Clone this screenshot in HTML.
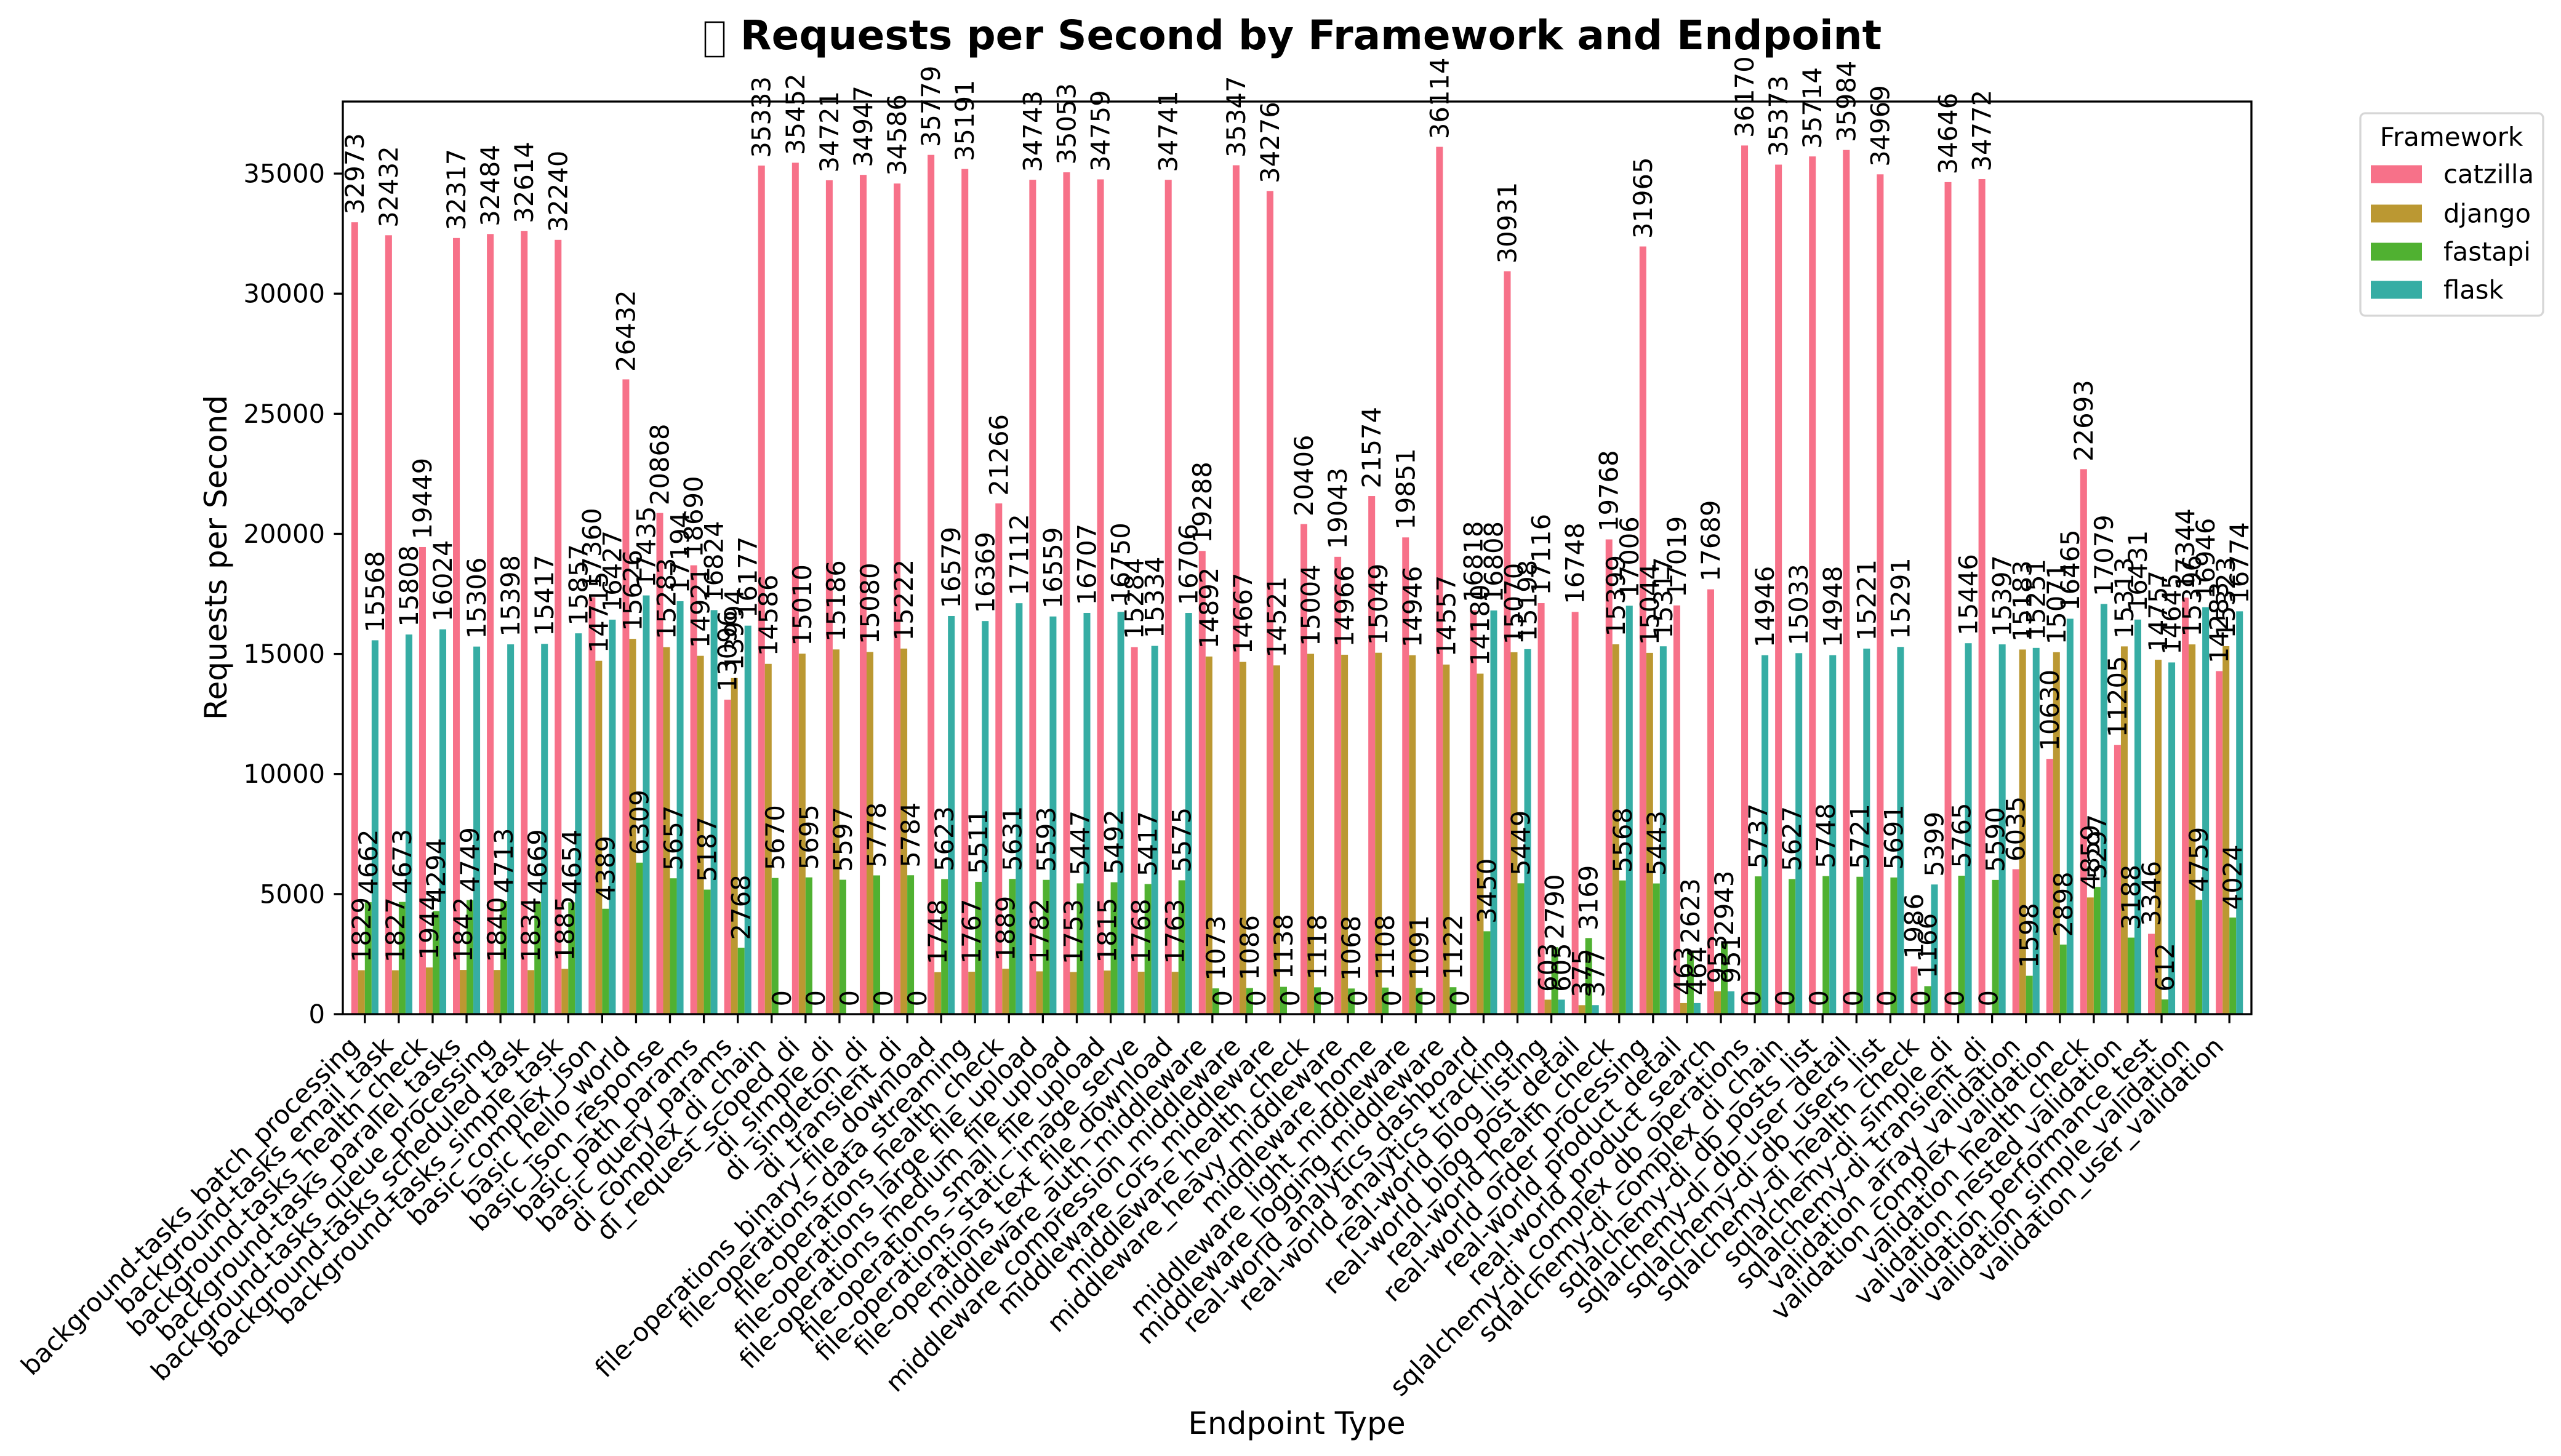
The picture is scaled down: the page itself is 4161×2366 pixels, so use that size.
<!DOCTYPE html>
<html>
<head>
<meta charset="utf-8">
<style>
html,body{margin:0;padding:0;background:#fff;}
svg{display:block;}
text{font-family:"DejaVu Sans","Liberation Sans",sans-serif;fill:#000;}
</style>
</head>
<body>
<svg id="chart" width="4161" height="2366" viewBox="0 0 4161 2366" xmlns="http://www.w3.org/2000/svg">
  <rect x="0" y="0" width="4161" height="2366" fill="#fff"/>
  <g>
    <rect x="1146" y="36" width="30" height="56" fill="none" stroke="#000" stroke-width="2.5"/>
    <text x="2130" y="80" font-size="66" font-weight="bold" text-anchor="middle">Requests per Second by Framework and Endpoint</text>
  </g>
  <g id="bars"></g>
  <g id="labels"></g>
  <g id="yaxis"></g>
  <g id="xaxis"></g>
  <rect x="557" y="165" width="3101" height="1483" fill="none" stroke="#000" stroke-width="3.3"/>
  <text x="0" y="0" font-size="50" text-anchor="middle" transform="translate(368,906) rotate(-90)">Requests per Second</text>
  <text x="2107" y="2330" font-size="50" text-anchor="middle">Endpoint Type</text>
  <g id="legend">
    <rect x="3835" y="184" width="297" height="329" rx="8" fill="#fff" stroke="#d6d6d6" stroke-width="3.3"/>
    <text x="3983" y="237" font-size="42" text-anchor="middle">Framework</text>
  </g>
</svg>
<script>
const categories = ["background-tasks_batch_processing","background-tasks_email_task","background-tasks_health_check","background-tasks_parallel_tasks","background-tasks_queue_processing","background-tasks_scheduled_task","background-tasks_simple_task","basic_complex_json","basic_hello_world","basic_json_response","basic_path_params","basic_query_params","di_complex_di_chain","di_request_scoped_di","di_simple_di","di_singleton_di","di_transient_di","file-operations_binary_file_download","file-operations_data_streaming","file-operations_health_check","file-operations_large_file_upload","file-operations_medium_file_upload","file-operations_small_file_upload","file-operations_static_image_serve","file-operations_text_file_download","middleware_auth_middleware","middleware_compression_middleware","middleware_cors_middleware","middleware_health_check","middleware_heavy_middleware","middleware_home","middleware_light_middleware","middleware_logging_middleware","real-world_analytics_dashboard","real-world_analytics_tracking","real-world_blog_listing","real-world_blog_post_detail","real-world_health_check","real-world_order_processing","real-world_product_detail","real-world_product_search","sqlalchemy-di_complex_db_operations","sqlalchemy-di_complex_di_chain","sqlalchemy-di_db_posts_list","sqlalchemy-di_db_user_detail","sqlalchemy-di_db_users_list","sqlalchemy-di_health_check","sqlalchemy-di_simple_di","sqlalchemy-di_transient_di","validation_array_validation","validation_complex_validation","validation_health_check","validation_nested_validation","validation_performance_test","validation_simple_validation","validation_user_validation"];
const seriesNames = ["catzilla","django","fastapi","flask"];
const seriesColors = ["#f77189","#bb9832","#50b131","#36ada4"];
const catzilla = [32973,32432,19449,32317,32484,32614,32240,17360,26432,20868,18690,13096,35333,35452,34721,34947,34586,35779,35191,21266,34743,35053,34759,15284,34741,19288,35347,34276,20406,19043,21574,19851,36114,16818,30931,17116,16748,19768,31965,17019,17689,36170,35373,35714,35984,34969,1986,34646,34772,6035,10630,22693,11205,3346,17344,14283];
const django = [1829,1827,1944,1842,1840,1834,1885,14715,15626,15283,14921,13994,14586,15010,15186,15080,15222,1748,1767,1889,1782,1753,1815,1768,1763,14892,14667,14521,15004,14966,15049,14946,14557,14180,15070,603,375,15399,15044,463,953,0,0,0,0,0,0,0,0,15183,15071,4859,15313,14757,15396,15323];
const fastapi = [4662,4673,4294,4749,4713,4669,4654,4389,6309,5657,5187,2768,5670,5695,5597,5778,5784,5623,5511,5631,5593,5447,5492,5417,5575,1073,1086,1138,1118,1068,1108,1091,1122,3450,5449,2790,3169,5568,5443,2623,2943,5737,5627,5748,5721,5691,1166,5765,5590,1598,2898,5297,3188,612,4759,4024];
const flask = [15568,15808,16024,15306,15398,15417,15857,16427,17435,17194,16824,16177,0,0,0,0,0,16579,16369,17112,16559,16707,16750,15334,16706,0,0,0,0,0,0,0,0,16808,15198,605,377,17006,15317,464,951,14946,15033,14948,15221,15291,5399,15446,15397,15251,16465,17079,16431,14645,16946,16774];
const yTicks = [0,5000,10000,15000,20000,25000,30000,35000];

const NS = "http://www.w3.org/2000/svg";
const X0 = 557, X1 = 3658, Y0 = 1648, Y1 = 165;
const xMin = -0.65, xMax = categories.length - 1 + 0.65, yMax = 38000;
function xScale(v){ return X0 + (v - xMin) / (xMax - xMin) * (X1 - X0); }
function yScale(v){ return Y0 - v / yMax * (Y0 - Y1); }
function mk(tag, attrs){ const e = document.createElementNS(NS, tag); for (const k in attrs) e.setAttribute(k, attrs[k]); return e; }

const allSeries = [catzilla, django, fastapi, flask];
const barsG = document.getElementById('bars');
const labelsG = document.getElementById('labels');
const bw = 0.2;
allSeries.forEach((vals, j) => {
  vals.forEach((v, i) => {
    const xl = xScale(i + (j - 2) * bw);
    const xr = xScale(i + (j - 1) * bw);
    const yt = yScale(v);
    const r = mk('rect', {x: xl, y: yt, width: xr - xl, height: Y0 - yt, fill: seriesColors[j]});
    
    
    barsG.appendChild(r);
    const cx = (xl + xr) / 2;
    const t = mk('text', {x: 0, y: 0, 'font-size': 41.7, 'dominant-baseline': 'central', transform: 'translate(' + cx + ',' + (yt - 12.5) + ') rotate(-90)'});
    t.textContent = String(v);
    
    
    labelsG.appendChild(t);
  });
});

const yG = document.getElementById('yaxis');
yTicks.forEach(v => {
  const y = yScale(v);
  const l = mk('line', {x1: X0 - 14.6, x2: X0, y1: y, y2: y, stroke: '#000', 'stroke-width': 3.3});
  
  
  yG.appendChild(l);
  const t = mk('text', {x: X0 - 29, y: y, 'font-size': 41.7, 'text-anchor': 'end', 'dominant-baseline': 'central'});
  t.textContent = String(v);
  
  
  yG.appendChild(t);
});

const xG = document.getElementById('xaxis');
categories.forEach((c, i) => {
  const x = xScale(i);
  const l = mk('line', {x1: x, x2: x, y1: Y0, y2: Y0 + 14.6, stroke: '#000', 'stroke-width': 3.3});
  
  
  xG.appendChild(l);
  const t = mk('text', {x: 0, y: 0, 'font-size': 41.7, 'text-anchor': 'end', transform: 'translate(' + (x - 7) + ',' + (Y0 + 55) + ') rotate(-45)'});
  t.textContent = c;
  
  
  xG.appendChild(t);
});

const legG = document.getElementById('legend');
const legY = [283, 347, 409, 471];
seriesNames.forEach((n, j) => {
  const g = mk('g', {});
  
  
  g.appendChild(mk('rect', {x: 3852, y: legY[j] - 14.5, width: 83, height: 29, fill: seriesColors[j]}));
  const t = mk('text', {x: 3970, y: legY[j], 'font-size': 41.7, 'dominant-baseline': 'central'});
  t.textContent = n;
  g.appendChild(t);
  legG.appendChild(g);
});
</script>
</body>
</html>
